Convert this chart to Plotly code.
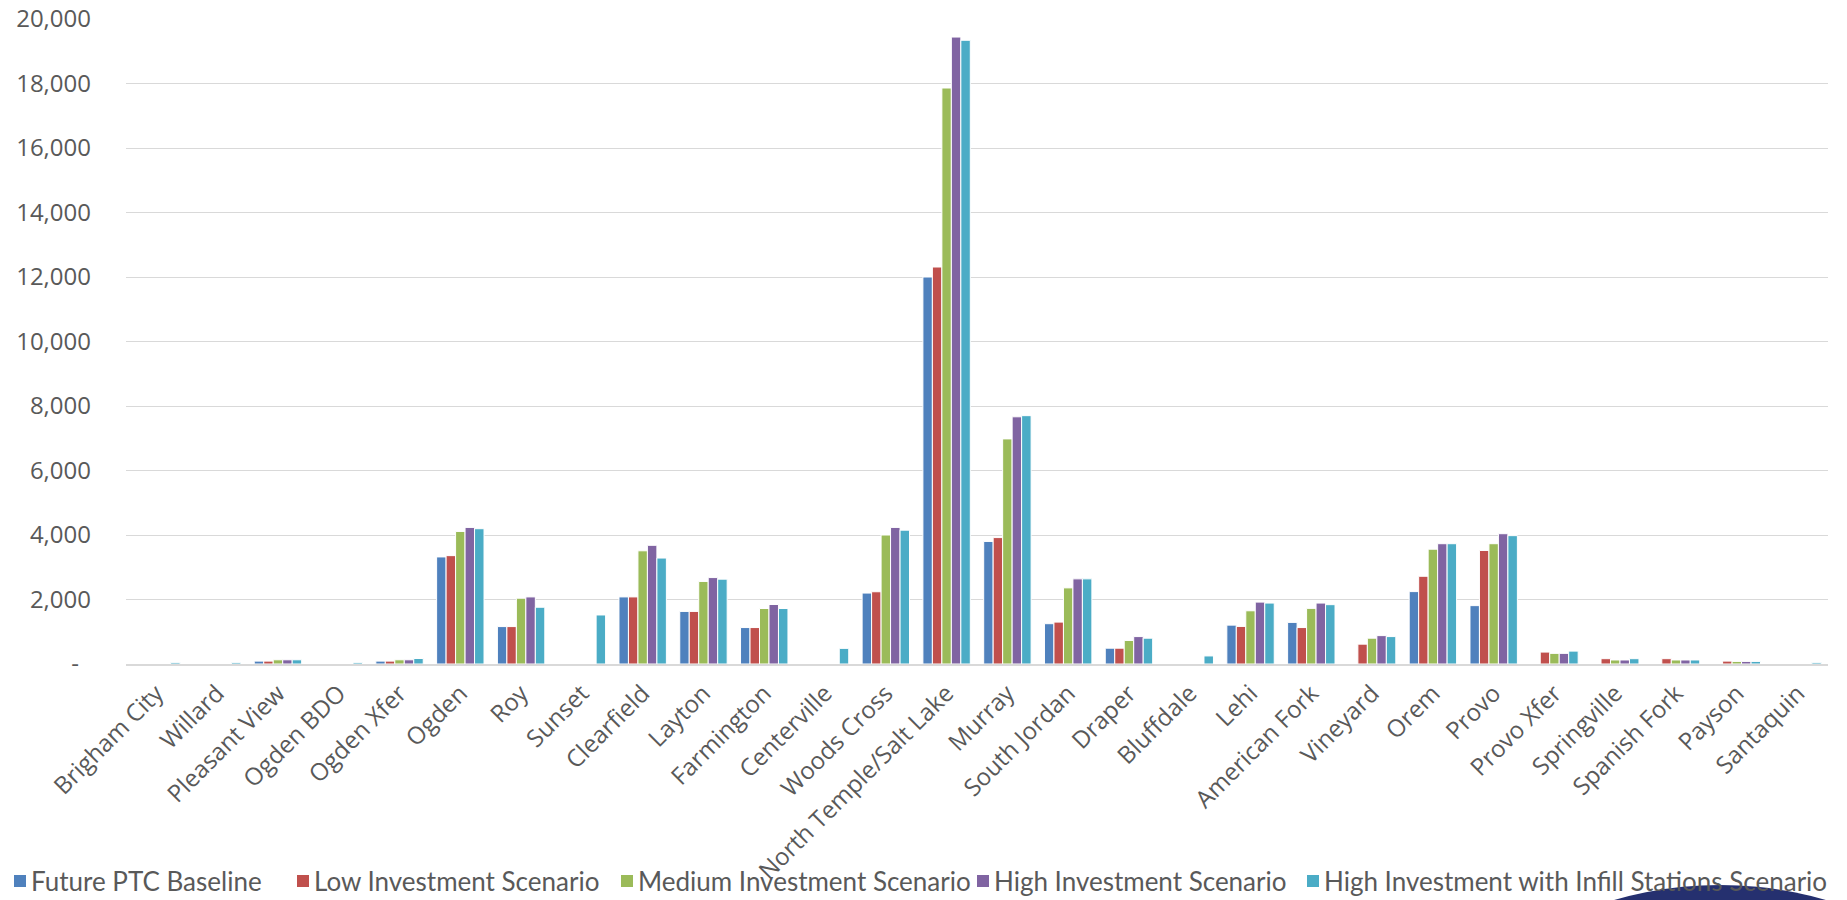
import plotly.graph_objects as go

categories = ["Brigham City", "Willard", "Pleasant View", "Ogden BDO", "Ogden Xfer", "Ogden", "Roy",
              "Sunset", "Clearfield", "Layton", "Farmington", "Centerville", "Woods Cross",
              "North Temple/Salt Lake", "Murray", "South Jordan", "Draper", "Bluffdale", "Lehi",
              "American Fork", "Vineyard", "Orem", "Provo", "Provo Xfer", "Springville",
              "Spanish Fork", "Payson", "Santaquin"]

future_ptc_baseline = [0, 0, 90, 0, 90, 3320, 1160, 0, 2080, 1630, 1130, 0, 2200,
                       12000, 3800, 1250, 490, 0, 1205, 1290, 0, 2245, 1810, 0, 0, 0, 0, 0]
low_investment = [0, 0, 90, 0, 90, 3360, 1160, 0, 2080, 1630, 1130, 0, 2240,
                  12310, 3920, 1300, 490, 0, 1165, 1130, 615, 2720, 3520, 370, 165, 165, 90, 0]
medium_investment = [0, 0, 130, 0, 130, 4110, 2040, 0, 3510, 2560, 1720, 0, 4000,
                     17860, 6980, 2360, 730, 0, 1650, 1725, 800, 3560, 3730, 330, 125, 125, 80, 0]
high_investment = [0, 0, 130, 0, 130, 4235, 2080, 0, 3680, 2680, 1845, 0, 4235,
                   19440, 7665, 2640, 850, 0, 1920, 1890, 880, 3730, 4040, 330, 125, 125, 80, 0]
high_infill = [50, 50, 130, 50, 170, 4195, 1760, 1520, 3285, 2630, 1720, 485, 4150,
               19340, 7700, 2640, 800, 250, 1890, 1840, 850, 3730, 3980, 400, 165, 125, 80, 50]

series_names = ["Future PTC Baseline", "Low Investment Scenario", "Medium Investment Scenario",
                "High Investment Scenario", "High Investment with Infill Stations Scenario"]
series_values = [future_ptc_baseline, low_investment, medium_investment, high_investment, high_infill]
colors = ["#4F81BD", "#C0504D", "#9BBB59", "#8064A2", "#4BACC6"]

y_tick_vals = [0, 2000, 4000, 6000, 8000, 10000, 12000, 14000, 16000, 18000, 20000]
y_tick_text = ["-\u2002", "2,000", "4,000", "6,000", "8,000", "10,000", "12,000",
               "14,000", "16,000", "18,000", "20,000"]

# figure / plot-area geometry in pixels
W, H = 1847, 900
L, R, T, B = 126, 19, 19, 236
PW, PH = W - L - R, H - T - B

def px_x(px):
    return (px - L) / PW

def px_y(py):
    return (H - B - py) / PH

# legend placement (left edge of each swatch, in pixels)
legend_swatch_x = [14, 297, 621, 977, 1307]
legend_y = 881
swatch = 12

fig = go.Figure()
for name, vals, col in zip(series_names, series_values, colors):
    fig.add_trace(go.Bar(
        x=categories, y=vals, name=name,
        marker=dict(color=col, line=dict(color="white", width=1)),
    ))

shapes = []
annotations = []
for name, col, sx in zip(series_names, colors, legend_swatch_x):
    shapes.append(dict(type="rect", xref="paper", yref="paper",
                       x0=px_x(sx), x1=px_x(sx + swatch),
                       y0=px_y(legend_y + swatch / 2), y1=px_y(legend_y - swatch / 2),
                       fillcolor=col, line=dict(width=0)))
    annotations.append(dict(text=name, xref="paper", yref="paper",
                            x=px_x(sx + swatch + 3), y=px_y(legend_y),
                            xanchor="left", yanchor="middle", showarrow=False,
                            font=dict(family="Lato", size=26, color="#595959")))

shapes.append(dict(type="circle", xref="paper", yref="paper",
                   x0=px_x(1340), x1=px_x(2100),
                   y0=px_y(1643), y1=px_y(885),
                   fillcolor="#25306F", line=dict(width=0), layer="above"))

fig.update_layout(
    width=W, height=H,
    barmode="group", bargap=0.22, bargroupgap=0,
    plot_bgcolor="white", paper_bgcolor="white",
    margin=dict(l=L, r=R, t=T, b=B),
    font=dict(family="Open Sans", color="#595959"),
    showlegend=False,
    shapes=shapes,
    annotations=annotations,
)
fig.update_xaxes(
    tickangle=-45, tickfont=dict(size=24, family="Open Sans", color="#595959"),
    showline=True, linecolor="#D9D9D9", linewidth=1.5, ticks="", showgrid=False,
    ticklabelstandoff=4, automargin=False,
)
fig.update_yaxes(
    range=[0, 20000], tickvals=y_tick_vals, ticktext=y_tick_text,
    tickfont=dict(size=24, family="Open Sans", color="#595959"),
    showgrid=True, gridcolor="#D9D9D9", gridwidth=1.2, zeroline=False,
    ticks="", ticklabelstandoff=34, automargin=False, ticklabeloverflow="allow",
)

fig.write_html("out.html")
